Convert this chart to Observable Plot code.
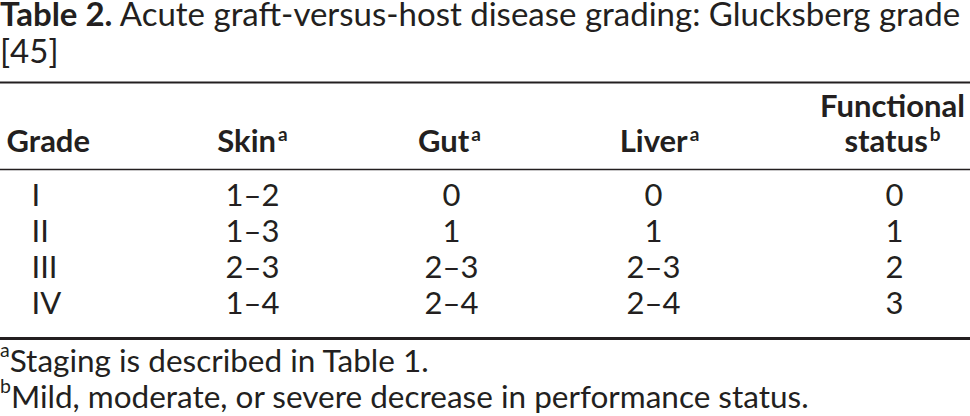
<!DOCTYPE html>
<html><head><meta charset="utf-8">
<script src="https://cdn.jsdelivr.net/npm/d3@7"></script>
<script src="https://cdn.jsdelivr.net/npm/@observablehq/plot@0.6"></script>
<style>
body{margin:0;background:#fff;width:970px;height:416px;overflow:hidden;font-family:Lato,"Open Sans",sans-serif;color:#231f20;position:relative;}
#title{position:absolute;left:0;top:-5px;font-size:33px;line-height:37px;white-space:nowrap;}
#title b{font-weight:700}
#chart{position:absolute;left:0;top:72px;}
#chart svg{display:block}
#notes{position:absolute;left:0;top:342px;font-size:31.5px;line-height:36px;white-space:nowrap;}
#notes sup{font-size:62%;line-height:0;vertical-align:0.75em}
</style></head><body>
<div id="title"><b>Table 2.</b> Acute graft-versus-host disease grading: Glucksberg grade<br>[45]</div>
<div id="chart"></div>
<div id="notes"><div><sup>a</sup>Staging is described in Table 1.</div><div><sup>b</sup>Mild, moderate, or severe decrease in performance status.</div></div>
<script>
// ---- data ----
const columns = ["Grade", "Skin", "Gut", "Liver", "Functional status"];
const headerLabels = ["Grade", "Skin^a", "Gut^a", "Liver^a", "Functional\nstatus^b"];
const grades = ["I", "II", "III", "IV"];
const skin = ["1–2", "1–3", "2–3", "1–4"];
const gut = ["0", "1", "2–3", "2–4"];
const liver = ["0", "1", "2–3", "2–4"];
const functionalStatus = ["0", "1", "2", "3"];

// ---- layout (not data) ----
const ink = "#231f20";
const colLayout = {
  "Grade": {header: 6, body: 31, anchor: "start"},
  "Skin": {header: 252, body: 252, anchor: "middle"},
  "Gut": {header: 449, body: 451, anchor: "middle"},
  "Liver": {header: 659, body: 653, anchor: "middle"},
  "Functional status": {header: 892, body: 894, anchor: "middle"}
};

const columnValues = [grades, skin, gut, liver, functionalStatus];
const cells = columns.flatMap((c, j) => columnValues[j].map((v, i) => ({col: c, row: i, text: v})));
const headers = columns.map((c, j) => ({col: c, text: headerLabels[j]}));
const HEADER_ROW = -1.5, HEADER_RULE = -1;

const marks = [];
for (const anchor of ["start", "middle"]) {
  marks.push(Plot.text(headers.filter(d => colLayout[d.col].anchor === anchor), {
    x: d => colLayout[d.col].header, y: () => HEADER_ROW, text: "text",
    textAnchor: anchor, lineAnchor: "bottom", lineHeight: 35 / 31,
    fontWeight: "bold", fill: ink
  }));
  marks.push(Plot.text(cells.filter(d => colLayout[d.col].anchor === anchor), {
    x: d => colLayout[d.col].body, y: "row", text: "text",
    textAnchor: anchor, lineAnchor: "bottom", fill: ink
  }));
}

const chart = Plot.plot({
  width: 970, height: 270,
  marginTop: 10, marginBottom: 4, marginLeft: 0, marginRight: 0,
  x: {domain: [0, 970], range: [0, 970], axis: null},
  y: {domain: [-1, 3], range: [97, 241], axis: null},
  style: {fontFamily: "Lato, 'Open Sans', sans-serif", fontSize: "31px", color: ink, background: "#fff"},
  marks: [
    Plot.frame({anchor: "top", stroke: ink, strokeWidth: 2}),
    Plot.ruleY([HEADER_RULE], {stroke: ink, strokeWidth: 1.5}),
    Plot.frame({anchor: "bottom", stroke: ink, strokeWidth: 3}),
    ...marks
  ]
});

// superscripts
chart.querySelectorAll("text, tspan").forEach(el => {
  [...el.childNodes].forEach(n => {
    if (n.nodeType === 3 && n.nodeValue.includes("^")) {
      const [a, b] = n.nodeValue.split("^");
      n.nodeValue = a;
      const t = document.createElementNS("http://www.w3.org/2000/svg", "tspan");
      t.setAttribute("font-size", "19");
      t.setAttribute("dy", "-11");
      t.setAttribute("dx", "2");
      t.textContent = b;
      el.insertBefore(t, n.nextSibling);
    }
  });
});
document.getElementById("chart").appendChild(chart);
</script>
</body></html>
